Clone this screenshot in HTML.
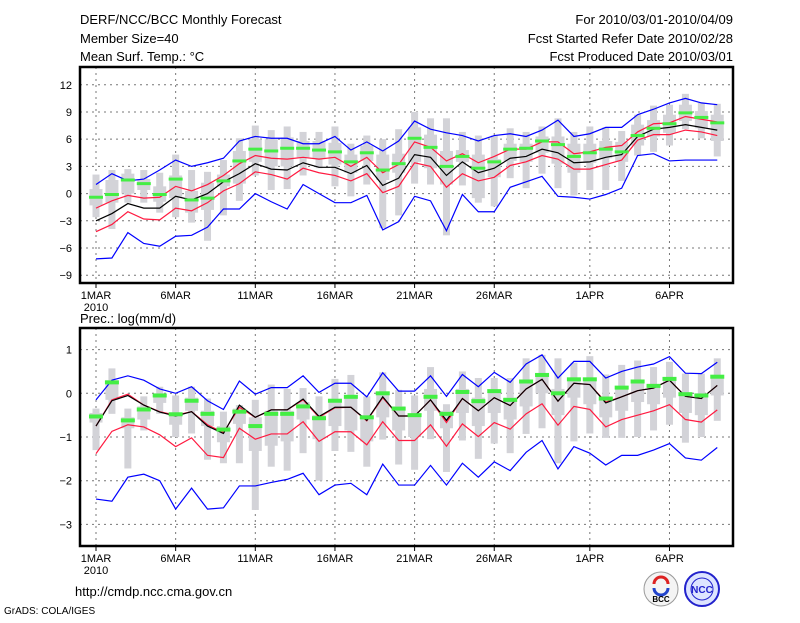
<!DOCTYPE html>
<html><head><meta charset="utf-8"><style>
body{margin:0;background:#fff;width:800px;height:618px;overflow:hidden}
svg{font-family:"Liberation Sans",sans-serif}
</style></head><body>
<svg id="c" width="800" height="618" viewBox="0 0 800 618">
<g font-size="13" fill="#000">
<text x="80" y="24">DERF/NCC/BCC Monthly Forecast</text>
<text x="80" y="43">Member Size=40</text>
<text x="80" y="61">Mean Surf. Temp.: °C</text>
<text x="733" y="24" text-anchor="end">For 2010/03/01-2010/04/09</text>
<text x="733" y="43" text-anchor="end">Fcst Started Refer Date 2010/02/28</text>
<text x="733" y="61" text-anchor="end">Fcst Produced Date 2010/03/01</text>
<text x="80" y="323">Prec.: log(mm/d)</text>
<text x="75" y="596">http://cmdp.ncc.cma.gov.cn</text>
<text x="4" y="614" font-size="10">GrADS: COLA/IGES</text>
</g>
<g>
<circle cx="661" cy="589" r="17" fill="#f4f4f4" stroke="#999"/>
<path d="M654 584 a7 7 0 0 1 14 0" stroke="#d22" stroke-width="3" fill="none"/>
<path d="M668 588 a7 7 0 0 1 -14 0" stroke="#24c" stroke-width="3" fill="none"/>
<text x="661" y="602" font-size="8" text-anchor="middle" font-weight="bold">BCC</text>
</g>
<g>
<circle cx="702" cy="589" r="17" fill="#dde4ff" stroke="#22c" stroke-width="2"/>
<circle cx="702" cy="589" r="11" fill="none" stroke="#22c"/>
<text x="702" y="593" font-size="10" text-anchor="middle" fill="#22c" font-weight="bold">NCC</text>
</g>
<g id="p1"></g>
<g id="p2"></g>
</svg>
<script>
// x-axis
const tickIdx=[0,5,10,15,20,25,31,36];
const tickLbl=["1MAR","6MAR","11MAR","16MAR","21MAR","26MAR","1APR","6APR"];
// Temperature panel data
const tYticks=[12,9,6,3,0,-3,-6,-9];
const tBlueTop=[1.0,2.2,1.4,1.6,2.6,3.7,3.0,3.4,3.9,5.8,6.3,6.1,6.1,5.5,5.5,6.3,4.8,5.7,4.7,5.8,8.0,7.1,6.7,6.4,5.8,6.4,6.6,6.3,7.0,8.1,6.3,6.6,7.3,7.3,8.7,9.3,10.0,10.5,10.0,9.8];
const tRedTop=[-1.6,-0.8,-0.2,-0.5,-0.4,0.8,0.3,1.0,2.0,3.3,4.2,3.9,3.8,4.0,3.8,4.0,3.0,4.0,2.3,3.2,5.7,5.1,3.6,4.4,3.4,4.1,4.9,4.9,5.7,5.7,4.4,4.6,5.1,5.3,6.8,7.7,7.8,8.5,8.2,7.9];
const tMean=[-3.0,-2.2,-1.1,-1.6,-1.6,-0.3,-0.7,0.0,1.3,2.2,3.3,2.7,2.6,3.4,2.9,2.9,2.2,3.1,0.9,1.7,4.3,4.0,2.0,3.5,2.3,2.8,3.9,4.1,4.9,4.5,3.4,3.5,4.0,4.3,6.3,7.1,7.3,7.6,7.3,7.0];
const tRedLow=[-4.2,-3.4,-2.0,-2.8,-2.9,-1.6,-1.9,-1.0,0.3,1.1,2.4,2.1,1.6,2.8,2.3,2.0,1.4,2.2,0.1,0.8,3.4,3.0,0.7,2.2,1.4,1.8,3.1,3.5,4.2,3.8,2.7,2.7,3.2,3.7,5.9,6.5,6.5,7.0,6.8,6.4];
const tBlueLow=[-7.2,-7.1,-4.3,-5.5,-5.8,-4.7,-4.6,-3.7,-1.7,-1.7,0.0,-0.9,-1.7,1.0,0.0,-1.0,-1.0,-0.2,-4.0,-3.1,-0.3,-0.8,-4.1,-0.1,-2.0,-2.0,0.7,1.3,1.9,-0.3,-0.4,-0.6,-0.1,0.6,4.2,4.4,3.6,3.7,3.7,3.7];
const tObs=[-0.4,-0.1,1.5,1.1,-0.1,1.6,-0.7,-0.5,1.4,3.6,4.9,4.7,5.0,5.0,4.8,4.6,3.5,4.5,2.6,3.3,6.1,5.1,3.0,4.1,2.8,3.5,4.9,5.0,5.8,5.4,4.1,4.5,4.9,4.6,6.4,7.2,7.7,8.9,8.4,7.8];
const tWhiHi=[2.1,2.6,2.7,2.6,2.3,4.3,2.6,2.4,3.7,6.1,7.5,7.0,7.4,6.8,6.8,7.4,5.5,6.4,6.0,7.1,9.0,8.3,8.3,6.8,6.4,6.4,7.2,6.8,7.4,8.3,6.8,7.4,7.3,6.9,8.7,9.7,9.8,11.0,10.0,9.9];
const tWhiLo=[-2.6,-3.9,-1.0,-1.0,-2.1,-2.6,-3.2,-5.2,-2.4,-0.8,2.0,0.4,0.5,2.0,2.8,0.8,-0.3,1.0,-3.8,-2.4,1.1,1.0,-4.6,0.9,-1.0,-1.4,1.7,0.6,2.2,0.6,-0.2,0.4,0.4,1.4,4.2,4.6,5.3,7.1,6.1,4.1];
const tBoxHi=[0.5,1.5,2.2,1.6,0.8,2.0,0.3,1.2,2.1,4.7,6.0,6.0,6.2,5.8,5.8,5.6,4.3,5.3,4.3,4.4,7.3,6.5,4.7,4.8,4.3,3.8,5.5,5.5,6.3,6.3,5.5,5.5,5.8,5.7,7.6,8.1,8.7,9.8,9.1,8.7];
const tBoxLo=[-1.3,-1.0,0.0,0.4,-0.9,-0.5,-2.1,-1.8,0.8,1.1,3.5,3.0,3.0,4.0,3.8,3.2,2.3,3.6,1.5,2.3,3.5,2.8,1.0,3.5,-0.5,1.8,3.6,3.5,4.5,3.3,2.3,3.4,3.9,3.5,5.3,6.3,6.7,8.0,7.2,5.8];
// Precipitation panel data
const pYticks=[1,0,-1,-2,-3];
const pBlueTop=[-0.15,0.3,0.4,0.3,0.1,0.0,0.15,-0.17,-0.37,0.28,-0.02,0.13,0.13,0.4,0.02,0.23,0.23,-0.08,0.47,0.05,0.05,0.4,-0.07,0.43,0.15,0.48,0.25,0.67,0.88,0.35,0.73,0.73,0.35,0.5,0.6,0.67,0.84,0.46,0.45,0.71];
const pRedTop=[-0.75,-0.15,-0.02,-0.27,-0.42,-0.5,-0.42,-0.72,-0.9,-0.32,-0.55,-0.38,-0.38,-0.15,-0.55,-0.33,-0.32,-0.63,-0.1,-0.52,-0.52,-0.15,-0.67,-0.12,-0.4,-0.1,-0.28,0.1,0.32,-0.18,0.23,0.2,-0.2,-0.08,0.06,0.12,0.3,-0.07,-0.12,0.18];
const pMean=[-0.75,-0.17,-0.05,-0.27,-0.43,-0.52,-0.42,-0.75,-0.92,-0.27,-0.55,-0.38,-0.38,-0.13,-0.53,-0.32,-0.32,-0.62,-0.08,-0.52,-0.52,-0.15,-0.62,-0.12,-0.4,-0.1,-0.28,0.1,0.32,-0.18,0.23,0.2,-0.22,-0.08,0.06,0.12,0.3,-0.07,-0.12,0.18];
const pRedLow=[-1.38,-0.87,-0.72,-0.77,-0.95,-1.22,-1.02,-1.42,-1.47,-0.8,-1.05,-0.93,-0.93,-0.65,-1.1,-0.88,-0.88,-1.18,-0.65,-1.08,-1.08,-0.72,-1.21,-0.7,-0.99,-0.67,-0.82,-0.47,-0.24,-0.73,-0.3,-0.37,-0.77,-0.6,-0.5,-0.4,-0.26,-0.6,-0.66,-0.38];
const pBlueLow=[-2.42,-2.47,-1.92,-1.85,-2.0,-2.65,-2.17,-2.65,-2.62,-2.12,-2.12,-2.04,-1.97,-1.83,-2.32,-2.1,-2.06,-2.32,-1.62,-2.1,-2.1,-1.65,-2.1,-1.6,-1.92,-1.57,-1.77,-1.35,-1.08,-1.73,-1.22,-1.37,-1.64,-1.42,-1.42,-1.3,-1.15,-1.48,-1.53,-1.24];
const pObs=[-0.53,0.25,-0.62,-0.37,-0.05,-0.48,-0.17,-0.47,-0.83,-0.42,-0.75,-0.47,-0.47,-0.3,-0.57,-0.17,-0.08,-0.55,0.0,-0.35,-0.5,-0.08,-0.47,0.03,-0.18,0.05,-0.15,0.27,0.42,0.0,0.32,0.32,-0.12,0.13,0.27,0.17,0.33,-0.02,-0.05,0.38];
const pWhiHi=[-0.35,0.57,-0.35,-0.07,0.15,-0.05,0.15,-0.12,-0.42,-0.27,-0.15,0.2,0.1,0.12,-0.07,0.33,0.42,-0.07,0.48,0.08,-0.05,0.6,-0.25,0.5,0.35,0.35,0.35,0.8,0.88,0.8,0.7,0.85,0.43,0.65,0.75,0.6,0.72,0.45,0.45,0.8];
const pWhiLo=[-1.3,-0.47,-1.72,-0.85,-0.47,-1.0,-0.92,-1.52,-1.6,-1.6,-2.67,-1.68,-1.77,-1.37,-2.0,-1.32,-1.34,-1.68,-1.06,-1.63,-1.75,-1.05,-1.8,-1.08,-1.5,-1.15,-1.37,-0.93,-0.8,-1.6,-1.1,-0.92,-1.02,-1.02,-1.0,-0.85,-0.72,-1.13,-1.0,-0.63];
const pBoxHi=[-0.45,0.3,-0.55,-0.3,0.0,-0.45,-0.1,-0.4,-0.75,-0.35,-0.55,-0.4,-0.4,-0.2,-0.5,-0.15,-0.05,-0.5,0.02,-0.3,-0.5,0.1,-0.4,0.1,-0.1,0.05,-0.1,0.3,0.45,0.1,0.3,0.3,-0.1,0.1,0.3,0.2,0.35,0.0,0.0,0.4];
const pBoxLo=[-0.67,-0.15,-0.8,-0.6,-0.22,-0.72,-0.4,-0.75,-1.12,-0.7,-1.32,-1.2,-1.1,-0.6,-1.05,-0.75,-0.85,-1.1,-0.55,-0.85,-1.0,-0.4,-0.8,-0.45,-0.75,-0.45,-0.6,-0.3,0.0,-0.5,-0.1,-0.25,-0.55,-0.4,-0.2,-0.25,-0.1,-0.45,-0.5,-0.05];

const NS="http://www.w3.org/2000/svg";
const xS=i=>96+i*15.93;
function mk(par,tag,at){const e=document.createElementNS(NS,tag);for(const k in at)e.setAttribute(k,at[k]);par.appendChild(e);return e;}
function panel(g,top,bot,yS,yt,blueTop,redTop,mean,redLow,blueLow,obs,whiHi,whiLo,boxHi,boxLo,gh,prefix){
  // grid
  yt.forEach(v=>{const l=mk(g,'line',{x1:80,x2:733,y1:yS(v),y2:yS(v),stroke:'#777','stroke-dasharray':'2,4'});
    
    
    const t=mk(g,'text',{x:72,y:yS(v)+4,'text-anchor':'end','font-size':11});t.textContent=(v<0?'\u2212'+(-v):v);
    
    });
  tickIdx.forEach((d,k)=>{const l=mk(g,'line',{x1:xS(d),x2:xS(d),y1:top,y2:bot,stroke:'#777','stroke-dasharray':'2,4'});
    
    
    mk(g,'line',{x1:xS(d),x2:xS(d),y1:bot,y2:bot+5,stroke:'#000'});
    const t=mk(g,'text',{x:xS(d),y:bot+16,'text-anchor':'middle','font-size':11});t.textContent=tickLbl[k];
    
    });
  const yr=mk(g,'text',{x:xS(0),y:bot+28,'text-anchor':'middle','font-size':11});yr.textContent='2010';
  
  
  // boxes
  for(let i=0;i<whiHi.length;i++){
    const w=mk(g,'rect',{x:xS(i)-3.5,width:7,y:yS(whiHi[i]),height:yS(whiLo[i])-yS(whiHi[i]),fill:'#d3d3d8'});
    
    
    const b=mk(g,'rect',{x:xS(i)-6.5,width:13,y:yS(boxHi[i]),height:yS(boxLo[i])-yS(boxHi[i]),fill:'#d3d3d8'});
    
    
  }
  const line=(arr,col,nm)=>{const p=mk(g,'polyline',{points:arr.map((v,i)=>xS(i)+','+yS(v)).join(' '),fill:'none',stroke:col,'stroke-width':1.2});
    
    };
  line(blueTop,'#0000ff','max-line');line(blueLow,'#0000ff','min-line');
  line(redTop,'#ff1a40','upper-line');line(redLow,'#ff1a40','lower-line');
  line(mean,'#000','mean-line');
  for(let i=0;i<obs.length;i++){const r=mk(g,'rect',{x:xS(i)-7,width:14,y:yS(obs[i])-gh/2,height:gh,fill:'#44ee44'});
    
    }
  const f=mk(g,'rect',{x:80,y:top,width:653,height:bot-top,fill:'none',stroke:'#000','stroke-width':2.5});
  
  
}
panel(document.getElementById('p1'),67,283,v=>193.6-v*9.07,tYticks,tBlueTop,tRedTop,tMean,tRedLow,tBlueLow,tObs,tWhiHi,tWhiLo,tBoxHi,tBoxLo,3,'temp-');
panel(document.getElementById('p2'),328,546,v=>393.3-v*43.7,pYticks,pBlueTop,pRedTop,pMean,pRedLow,pBlueLow,pObs,pWhiHi,pWhiLo,pBoxHi,pBoxLo,4,'prec-');
</script>
</body></html>
